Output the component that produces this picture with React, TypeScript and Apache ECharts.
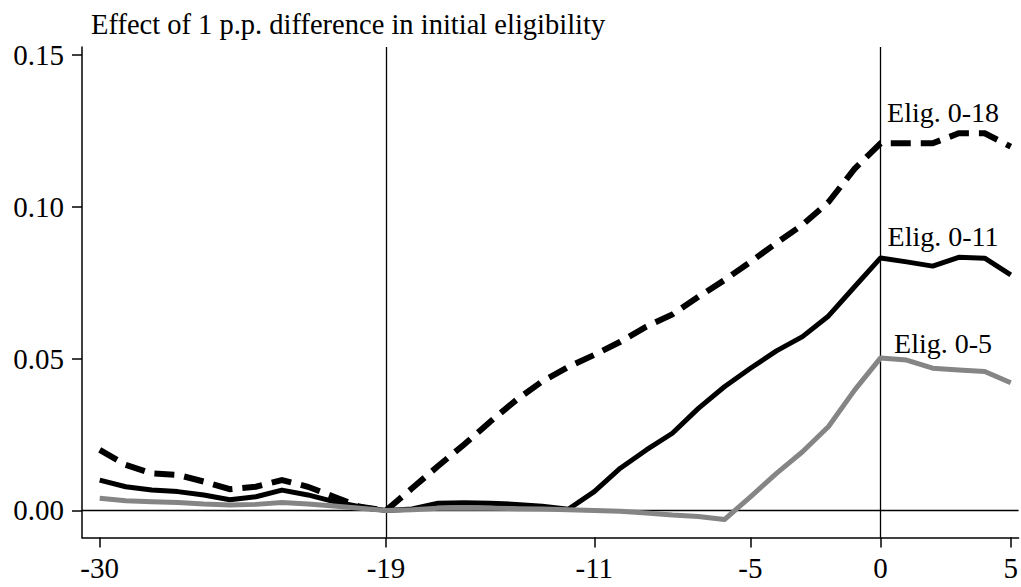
import React, { useEffect, useRef } from "react";
import * as echarts from "echarts";

const years = [-30,-29,-28,-27,-26,-25,-24,-23,-22,-21,-20,-19,-18,-17,-16,-15,-14,-13,-12,-11,-10,-9,-8,-7,-6,-5,-4,-3,-2,-1,0,1,2,3,4,5];

const elig018 = [0.0199,0.0150,0.0122,0.0117,0.0095,0.0070,0.0078,0.0100,0.0078,0.0045,0.0012,0.0000,0.0073,0.0146,0.0217,0.0292,0.0363,0.0425,0.0472,0.0512,0.0555,0.0605,0.0645,0.0703,0.0758,0.0818,0.0880,0.0940,0.1015,0.1124,0.1208,0.1208,0.1208,0.1241,0.1241,0.1197];

const elig011 = [0.0100,0.0078,0.0067,0.0062,0.0051,0.0035,0.0045,0.0067,0.0051,0.0029,0.0012,0.0000,0.0005,0.0024,0.0025,0.0024,0.0020,0.0014,0.0004,0.0062,0.0139,0.0199,0.0254,0.0336,0.0407,0.0468,0.0525,0.0572,0.0640,0.0736,0.0831,0.0818,0.0804,0.0833,0.0830,0.0775];

const elig05 = [0.0040,0.0032,0.0029,0.0026,0.0021,0.0018,0.0020,0.0026,0.0021,0.0015,0.0007,0.0000,0.0002,0.0007,0.0007,0.0007,0.0006,0.0005,0.0002,0.0000,-0.0003,-0.0008,-0.0015,-0.0020,-0.0030,0.0045,0.0122,0.0193,0.0276,0.0396,0.0502,0.0495,0.0468,0.0462,0.0457,0.0420];

const xTicks = [-30, -19, -11, -5, 0, 5];
const yTicks = [0, 0.05, 0.1, 0.15];
const refLinesX = [-19, 0];

const seriesLabels = [
  { name: "Elig. 0-18", x: 2.4, y: 0.1308 },
  { name: "Elig. 0-11", x: 2.4, y: 0.0900 },
  { name: "Elig. 0-5", x: 2.4, y: 0.0550 },
];

const titleText = "Effect of 1 p.p. difference in initial eligibility";

const FONT = "'Liberation Serif', 'Times New Roman', serif";

export default function App() {
  const ref = useRef<HTMLDivElement>(null);
  useEffect(() => {
    document.body.style.margin = "0";
    const chart = echarts.init(ref.current!, null, { renderer: "svg" });
    const pair = (arr: number[]) => years.map((x, i) => [x, arr[i]]);
    const labelPoint = (l: { name: string; x: number; y: number }) => ({
      coord: [l.x, l.y],
      symbol: "circle",
      symbolSize: 0,
      label: {
        show: true,
        position: "inside",
        formatter: l.name,
        color: "#000",
        fontFamily: FONT,
        fontSize: 28,
      },
    });
    chart.setOption({
      animation: false,
      backgroundColor: "#fff",
      title: {
        text: titleText,
        left: 86,
        top: 5,
        textStyle: { fontFamily: FONT, fontSize: 28.5, fontWeight: "normal", color: "#000" },
      },
      grid: { left: 82, right: 0, top: 47, bottom: 49.5, containLabel: false },
      xAxis: {
        type: "value",
        min: -30.68,
        max: 5.3,
        splitLine: { show: false },
        axisLine: { show: true, onZero: false, lineStyle: { color: "#000", width: 1.5 } },
        axisTick: { show: true, customValues: xTicks, length: 10, lineStyle: { color: "#000", width: 1.5 } },
        axisLabel: {
          customValues: xTicks,
          formatter: (v: number) => String(v),
          color: "#000",
          fontFamily: FONT,
          fontSize: 29,
          margin: 16,
        },
      },
      yAxis: {
        type: "value",
        min: -0.0089,
        max: 0.1525,
        splitLine: { show: false },
        axisLine: { show: true, onZero: false, lineStyle: { color: "#000", width: 1.5 } },
        axisTick: { show: true, customValues: yTicks, length: 10, lineStyle: { color: "#000", width: 1.5 } },
        axisLabel: {
          customValues: yTicks,
          formatter: (v: number) => v.toFixed(2),
          color: "#000",
          fontFamily: FONT,
          fontSize: 29,
          margin: 18,
        },
      },
      series: [
        {
          name: "Elig. 0-18",
          type: "line",
          data: pair(elig018),
          showSymbol: false,
          lineStyle: { color: "#000", width: 6, type: [20, 10], join: "miter" },
          z: 3,
          markLine: {
            silent: true,
            symbol: "none",
            label: { show: false },
            lineStyle: { color: "#000", width: 1.3, type: "solid" },
            data: [
              ...refLinesX.map((x) => ({ xAxis: x })),
              { yAxis: 0 },
            ],
          },
          markPoint: { data: [labelPoint(seriesLabels[0])] },
        },
        {
          name: "Elig. 0-11",
          type: "line",
          data: pair(elig011),
          showSymbol: false,
          lineStyle: { color: "#000", width: 5, join: "round" },
          z: 4,
          markPoint: { data: [labelPoint(seriesLabels[1])] },
        },
        {
          name: "Elig. 0-5",
          type: "line",
          data: pair(elig05),
          showSymbol: false,
          lineStyle: { color: "#858585", width: 5, join: "round" },
          z: 5,
          markPoint: { data: [labelPoint(seriesLabels[2])] },
        },
      ],
    });
    return () => chart.dispose();
  }, []);
  return <div ref={ref} style={{ position: "fixed", left: 0, top: 0, width: 1021, height: 587 }} />;
}
